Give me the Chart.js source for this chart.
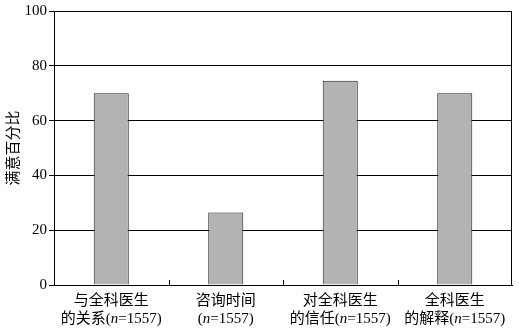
<!DOCTYPE html>
<html><head><meta charset="utf-8">
<script src="https://cdn.jsdelivr.net/npm/chart.js@4"></script>
<style>html,body{margin:0;padding:0;background:#fff;}#wrap{width:519px;height:331px;}</style>
</head><body><div id="wrap"><canvas id="c" width="519" height="331"></canvas></div>
<script>
const categories = [
  ["与全科医生", "的关系(n=1557)"],
  ["咨询时间", "(n=1557)"],
  ["对全科医生", "的信任(n=1557)"],
  ["全科医生", "的解释(n=1557)"]
];
const satisfaction = [70, 26.5, 74.5, 70];
const yTicks = [0, 20, 40, 60, 80, 100];
const yTitle = "满意百分比";

const SERIF = '"Liberation Serif", "Noto Sans CJK SC", serif';

function drawMixed(ctx, text, cx, y, size) {
  const parts = [];
  const re = /n(?==)/g;
  let last = 0, m;
  while ((m = re.exec(text))) {
    parts.push({t: text.slice(last, m.index), it: false});
    parts.push({t: 'n', it: true});
    last = m.index + 1;
  }
  parts.push({t: text.slice(last), it: false});
  let total = 0;
  parts.forEach(p => {
    ctx.font = (p.it ? 'italic ' : '') + size + 'px ' + SERIF;
    p.w = ctx.measureText(p.t).width; total += p.w;
  });
  let x = cx - total / 2;
  parts.forEach(p => {
    ctx.font = (p.it ? 'italic ' : '') + size + 'px ' + SERIF;
    ctx.fillText(p.t, x, y); x += p.w;
  });
}

const extras = {
  id: 'extras',
  afterDraw(chart) {
    const ctx = chart.ctx, a = chart.chartArea, xs = chart.scales.x;
    ctx.save();
    ctx.strokeStyle = '#000'; ctx.lineWidth = 1;
    ctx.strokeRect(Math.round(a.left) + 0.5, Math.round(a.top) + 0.5, Math.round(a.right - a.left) - 1, Math.round(a.bottom - a.top));
    ctx.beginPath();
    for (let i = 1; i < categories.length; i++) {
      const x = Math.round((xs.getPixelForValue(i - 1) + xs.getPixelForValue(i)) / 2) + 0.5;
      ctx.moveTo(x, a.bottom); ctx.lineTo(x, a.bottom - 5);
    }
    ctx.stroke();
    ctx.fillStyle = '#000'; ctx.textBaseline = 'middle';
    categories.forEach((lines, i) => {
      const cx = xs.getPixelForValue(i);
      lines.forEach((ln, j) => drawMixed(ctx, ln, cx, a.bottom + 16 + j * 18, 15));
    });
    ctx.restore();
  }
};

new Chart(document.getElementById('c'), {
  type: 'bar',
  data: {
    labels: categories,
    datasets: [{
      data: satisfaction,
      backgroundColor: '#b3b3b3',
      borderColor: '#222',
      borderWidth: 1,
      barPercentage: 0.306,
      categoryPercentage: 1
    }]
  },
  options: {
    responsive: false,
    animation: false,
    devicePixelRatio: 1,
    layout: { padding: { top: 8, right: 7, left: 0, bottom: 0 } },
    plugins: { legend: { display: false }, tooltip: { enabled: false } },
    scales: {
      x: {
        grid: { display: false, drawTicks: false },
        border: { display: true, color: '#000', width: 1 },
        ticks: { display: false },
        afterFit(s) { s.height = 46; }
      },
      y: {
        min: 0, max: 100,
        afterBuildTicks(s) { s.ticks = yTicks.map(v => ({ value: v })); },
        grid: { color: '#000', lineWidth: 1, drawTicks: true, tickLength: 5 },
        border: { display: true, color: '#000', width: 1 },
        ticks: { padding: 2, color: '#000', font: { family: SERIF, size: 15 } },
        title: { display: true, text: yTitle, color: '#000', font: { family: SERIF, size: 15 }, padding: { top: 5, bottom: 0 } },
        afterFit(s) { s.width = 54; }
      }
    }
  },
  plugins: [extras]
});
</script></body></html>
